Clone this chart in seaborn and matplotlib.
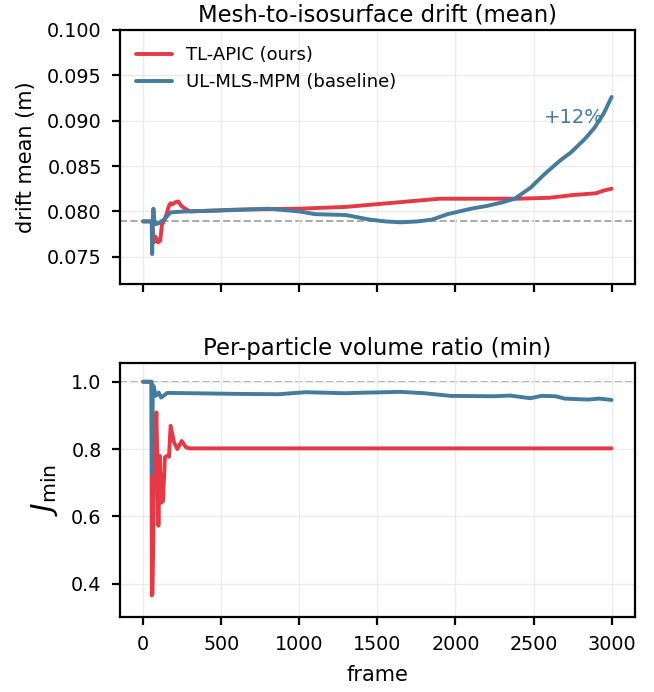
import numpy as np
import pandas as pd
import seaborn as sns
import matplotlib.pyplot as plt

# colours
RED = '#e63946'
BLUE = '#457b9d'

# drift (mean), TL-APIC
drift_tl_frame = [0, 55, 62, 70, 80, 95, 110, 120, 135, 150, 165, 176, 190, 205, 225, 245, 270, 300,
                  600, 1000, 1300, 1500, 1700, 1900, 2100, 2400, 2600, 2750, 2900, 2950, 3000]
drift_tl = [0.0789, 0.0789, 0.0780, 0.0766, 0.0772, 0.0766, 0.0768, 0.0785, 0.0790, 0.0797, 0.0806,
            0.0809, 0.0808, 0.0810, 0.0811, 0.0806, 0.0803, 0.0800,
            0.0802, 0.0803, 0.0805, 0.0808, 0.0811, 0.0814, 0.0814, 0.0814, 0.0815, 0.0818, 0.0820,
            0.0823, 0.0825]

# drift (mean), UL-MLS-MPM
drift_ul_frame = [0, 55, 58, 62, 66, 72, 80, 100, 115, 134, 155, 176, 272, 500, 800, 1000, 1100, 1300,
                  1450, 1550, 1650, 1760, 1850, 1950, 2100, 2200, 2300, 2380, 2480, 2570, 2670, 2740,
                  2830, 2890, 2950, 3000]
drift_ul = [0.0789, 0.0789, 0.0753, 0.0790, 0.0803, 0.0790, 0.0786, 0.0787, 0.0789, 0.0791, 0.0795,
            0.0799, 0.0800, 0.0801, 0.0803, 0.0800, 0.0797, 0.0796,
            0.0791, 0.0789, 0.0788, 0.0789, 0.0791, 0.0797, 0.0803, 0.0806, 0.0810, 0.0814, 0.0826,
            0.0841, 0.0856, 0.0865, 0.0880, 0.0892, 0.0908, 0.0926]

# J_min, TL-APIC
jmin_tl_frame = [0, 53, 56, 60, 72, 85, 92, 98, 106, 116, 127, 140, 155, 166, 176, 198, 219, 247, 275,
                 300, 3000]
jmin_tl = [1.0, 1.0, 0.365, 0.37, 0.75, 0.909, 0.75, 0.572, 0.78, 0.641, 0.645, 0.776, 0.78, 0.777,
           0.869, 0.82, 0.80, 0.824, 0.805, 0.802, 0.802]

# J_min, UL-MLS-MPM
jmin_ul_frame = [0, 50, 55, 57, 62, 68, 80, 100, 115, 130, 155, 300, 600, 868, 1040, 1290, 1450, 1650,
                 1800, 1970, 2250, 2350, 2480, 2550, 2640, 2700, 2850, 2920, 3000]
jmin_ul = [1.0, 1.0, 0.999, 0.726, 0.98, 0.987, 0.958, 0.968, 0.953, 0.958, 0.967, 0.966, 0.964, 0.963,
           0.969, 0.966, 0.968, 0.970, 0.966, 0.958, 0.957, 0.959, 0.951, 0.958, 0.957, 0.950, 0.947,
           0.950, 0.946]

labels = ['TL-APIC (ours)', 'UL-MLS-MPM (baseline)']

sns.set_theme(style='ticks')
plt.rcParams['font.family'] = ['DejaVu Sans']
plt.rcParams['text.color'] = 'black'
plt.rcParams['axes.labelcolor'] = 'black'
plt.rcParams['xtick.color'] = 'black'
plt.rcParams['ytick.color'] = 'black'

fig, (ax1, ax2) = plt.subplots(2, 1, figsize=(3.27, 3.46), dpi=200, sharex=True)
fig.subplots_adjust(left=0.183, right=0.971, top=0.957, bottom=0.108, hspace=0.31)

# top panel
sns.lineplot(x=drift_tl_frame, y=drift_tl, ax=ax1, color=RED, lw=1.4, label=labels[0])
sns.lineplot(x=drift_ul_frame, y=drift_ul, ax=ax1, color=BLUE, lw=1.4, label=labels[1])
ax1.axhline(0.0789, color='#aaaaaa', ls='--', lw=0.7, zorder=0)
ax1.set_ylim(0.072, 0.100)
ax1.set_yticks([0.075, 0.080, 0.085, 0.090, 0.095, 0.100])
ax1.set_ylabel('drift mean (m)', fontsize=7.5)
ax1.set_title('Mesh-to-isosurface drift (mean)', fontsize=8.2, pad=3)
ax1.text(2760, 0.0903, '+12%', color=BLUE, fontsize=7, ha='center', va='center')
ax1.legend(loc='upper left', frameon=False, fontsize=6.5, handlelength=2.0)

# bottom panel
sns.lineplot(x=jmin_tl_frame, y=jmin_tl, ax=ax2, color=RED, lw=1.4)
sns.lineplot(x=jmin_ul_frame, y=jmin_ul, ax=ax2, color=BLUE, lw=1.4)
ax2.axhline(1.0, color='#aaaaaa', ls='--', lw=0.7, zorder=0)
ax2.set_ylim(0.3, 1.056)
ax2.set_yticks([0.4, 0.6, 0.8, 1.0])
ax2.set_ylabel(r'$J_{\min}$', fontsize=10.5)
ax2.set_title('Per-particle volume ratio (min)', fontsize=8.2, pad=3)
ax2.set_xlabel('frame', fontsize=7.5)
ax2.set_xlim(-150, 3150)
ax2.set_xticks([0, 500, 1000, 1500, 2000, 2500, 3000])

for ax in (ax1, ax2):
    ax.grid(True, color='#ebebeb', lw=0.5)
    ax.tick_params(labelsize=6.9, width=0.8, length=3)
    for s in ax.spines.values():
        s.set_visible(True)
        s.set_linewidth(0.8)
        s.set_color('black')

fig.savefig('out.png', dpi=200)
